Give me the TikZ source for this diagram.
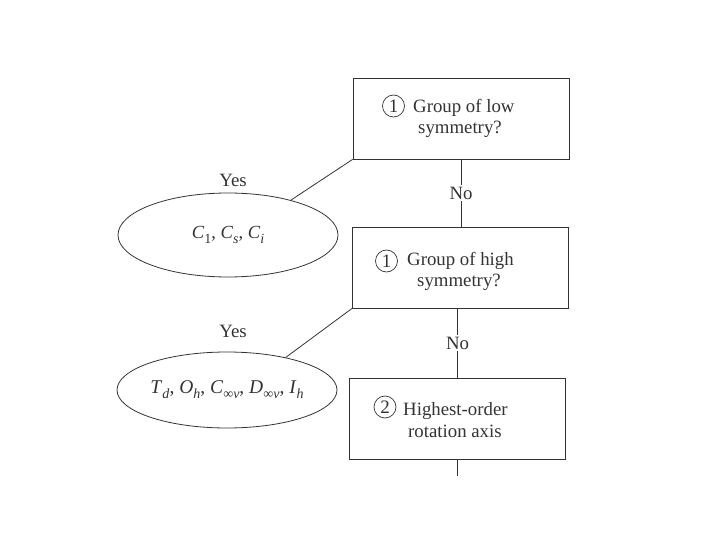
\documentclass[tikz,border=0pt]{standalone}
\usepackage{fontspec}
\setmainfont{Liberation Serif}
\usetikzlibrary{shapes.geometric}
\definecolor{ink}{gray}{0.2}
\tikzset{
  box/.style={draw=ink, line width=0.8pt, rectangle, minimum width=216pt, minimum height=81pt, inner sep=0pt},
  oval/.style={draw=ink, line width=0.8pt, ellipse, minimum width=220pt, minimum height=84pt, inner sep=0pt, text=ink, font=\fontsize{19.5}{22}\selectfont},
  txt/.style={anchor=base west, inner sep=0pt, text=ink, font=\fontsize{18.8}{22}\selectfont},
  num/.style={draw=ink, line width=0.7pt, circle, minimum size=22pt, inner sep=0pt, text=ink, font=\fontsize{19}{20}\selectfont},
  lbl/.style={fill=white, inner sep=2pt, text=ink, font=\fontsize{18.8}{22}\selectfont},
  conn/.style={draw=ink, line width=0.8pt},
}
\newcommand{\sbs}[1]{\raisebox{-5pt}{\fontsize{14}{14}\selectfont #1}}
\begin{document}
\begin{tikzpicture}[x=1pt,y=-1pt]
\useasboundingbox (0,0) rectangle (720,540);
% boxes
\node[box] (b1) at (461,118.5) {};
\node[box] (b2) at (460.5,267.5) {};
\node[box] (b3) at (457.5,418.5) {};
% box texts
\node[num] (n1) at (393.5,106) {1};
\node[txt] (t1a) at (413,113) {Group of low};
\node[txt] (t1b) at (418,134) {symmetry?};
\node[num] (n2) at (386.5,261) {1};
\node[txt] (t2a) at (407,265) {Group of high};
\node[txt] (t2b) at (417,286) {symmetry?};
\node[num] (n3) at (385,407) {2};
\node[txt] (t3a) at (403,415) {Highest-order};
\node[txt] (t3b) at (408,437) {rotation axis};
% ellipses
\node[oval, font=\fontsize{18.5}{22}\selectfont] (e1) at (228,235) {\textit{C}\sbs{1}, \textit{C}\sbs{\textit{s}}, \textit{C}\sbs{\textit{i}}};
\node[oval, minimum height=76pt] (e2) at (227,390) {\textit{T}\sbs{\textit{d}}, \textit{O}\sbs{\textit{h}}, \textit{C}\sbs{∞\textit{v}}, \textit{D}\sbs{∞\textit{v}}, \textit{I}\sbs{\textit{h}}};
% labels
\node[lbl] (yes1) at (233,180) {Yes};
\node[lbl] (yes2) at (233,331) {Yes};
% vertical connectors
\coordinate (end) at (b3.south |- 0,476);
\draw[conn] (b1.south) -- node[lbl] (no1) {No} (b1.south |- b2.north);
\draw[conn] (b3.north |- b2.south) -- node[lbl] (no2) {No} (b3.north);
\draw[conn] (b3.south) -- (end);
% yes connectors
\draw[conn] (b1.south west) -- (e1.29);
\draw[conn] (b2.south west) -- (e2.29);
\end{tikzpicture}
\end{document}
